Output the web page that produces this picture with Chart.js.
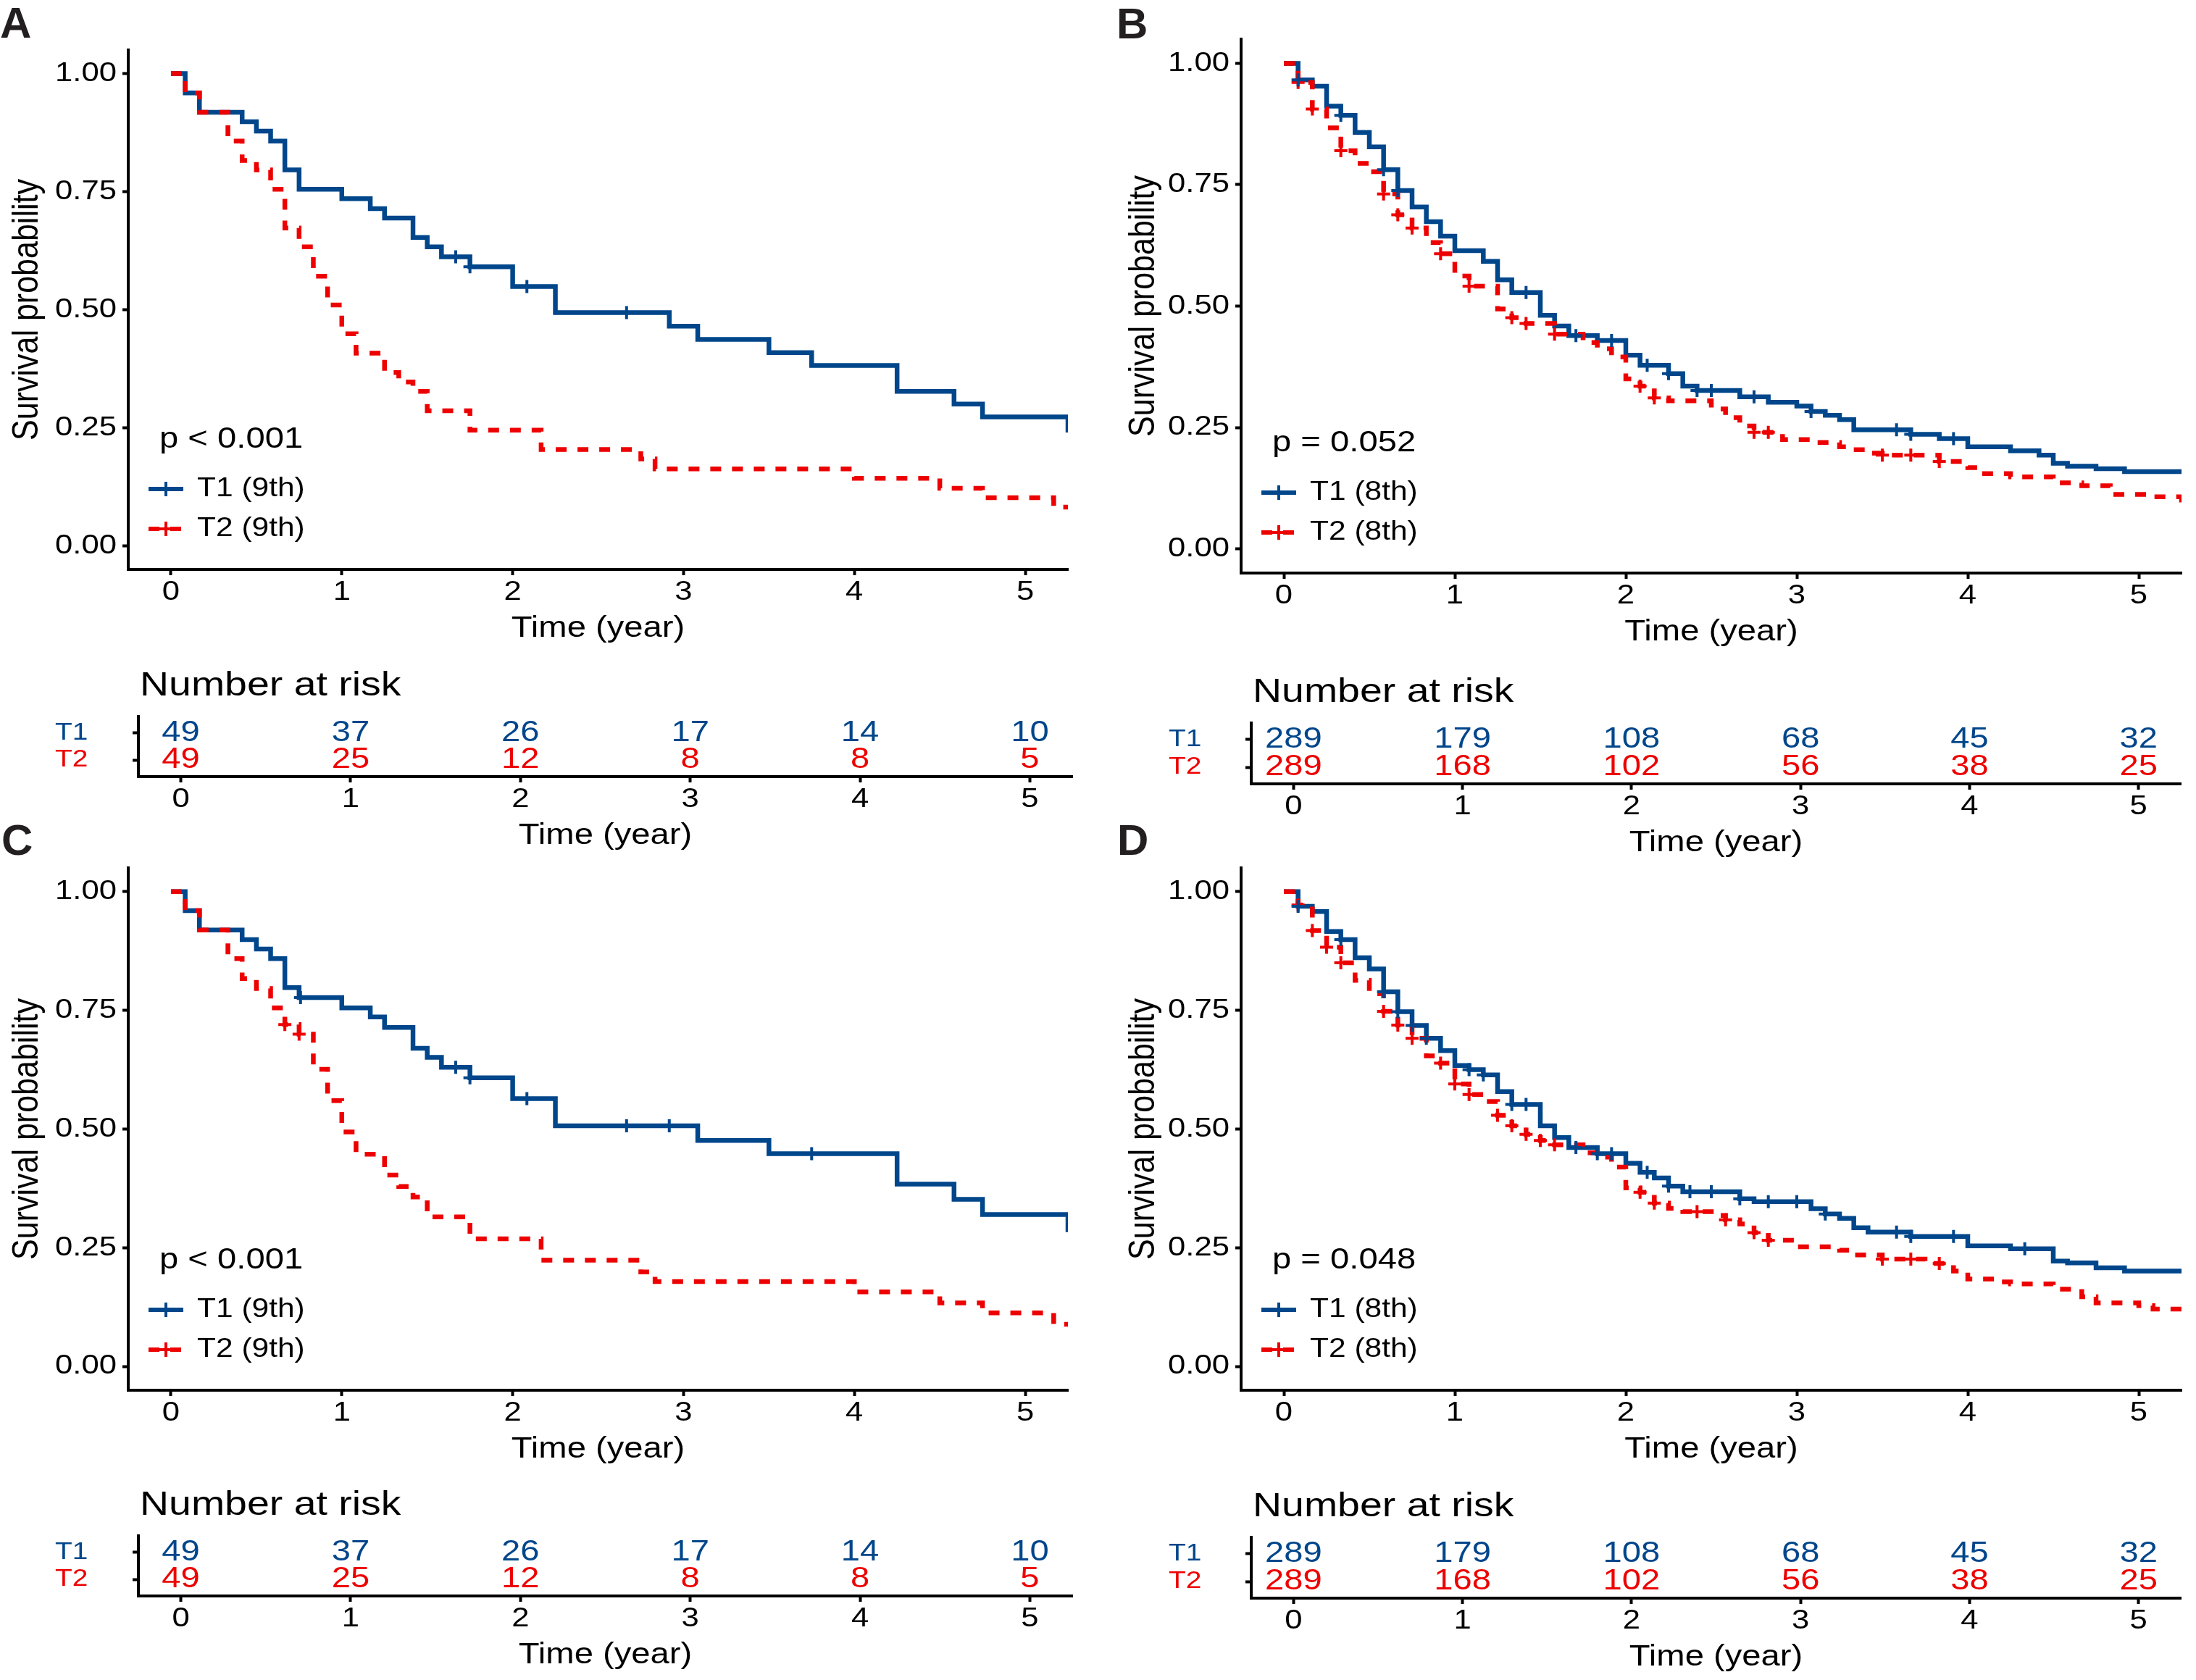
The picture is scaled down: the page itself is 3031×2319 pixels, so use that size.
<!DOCTYPE html>
<html>
<head>
<meta charset="utf-8">
<script src="https://cdn.jsdelivr.net/npm/chart.js@4.4.1/dist/chart.umd.min.js"></script>
<style>
  html, body { margin: 0; padding: 0; background: #fff; }
  #figure { position: relative; width: 3031px; height: 2319px; overflow: hidden; background: #fff; }
  #figure canvas { position: absolute; }
  .tag { position: absolute; font: bold 60px "Liberation Sans", Arial, sans-serif; line-height: 60px; color: #231f20; }
</style>
</head>
<body>
<div id="figure">
  <div class="tag" style="left:0px;top:2px">A</div>
  <div class="tag" style="left:1541px;top:3px">B</div>
  <div class="tag" style="left:2px;top:1130px">C</div>
  <div class="tag" style="left:1542px;top:1130px">D</div>
</div>
<script>
// ---- data (follow-up in months, survival probability) ----
const TIME_TICKS = [0, 1, 2, 3, 4, 5];
const SURV_TICKS = [0, 0.25, 0.5, 0.75, 1];
const RISK_TIMES = [0, 1, 2, 3, 4, 5];

// A: 9th edition
const A_T1_MONTH = [0, 1, 2, 5, 6, 7, 8, 9, 12, 14, 15, 17, 18, 19, 21, 24, 27, 35, 37, 42, 45, 51, 55, 57, 63];
const A_T1_SURV = [1, .959, .918, .898, .878, .857, .796, .755, .735, .714, .694, .653, .633, .612, .591, .549, .494, .465, .437, .409, .382, .327, .300, .273, .240];
const A_T1_CENS_MONTH = [20, 21, 25, 32];
const A_T1_CENS_SURV = [.612, .591, .549, .494];
const A_T2_MONTH = [0, 1, 2, 4, 5, 6, 7, 8, 9, 10, 11, 12, 13, 15, 16, 17, 18, 21, 26, 33, 34, 48, 54, 57, 62, 63];
const A_T2_SURV = [1, .959, .918, .857, .816, .796, .755, .673, .633, .571, .510, .449, .408, .367, .347, .327, .286, .245, .204, .184, .163, .143, .122, .102, .082, .082];
const A_T2_CENS_MONTH = [];
const A_T2_CENS_SURV = [];
const A_RISK_T1 = [49, 37, 26, 17, 14, 10];
const A_RISK_T2 = [49, 25, 12, 8, 8, 5];

// B: 8th edition
const B_T1_MONTH = [0, 1, 2, 3, 4, 5, 6, 7, 8, 9, 10, 11, 12, 14, 15, 16, 18, 19, 20, 22, 24, 25, 27, 28, 29, 32, 34, 36, 37, 38, 39, 40, 44, 46, 48, 51, 53, 54, 55, 57, 59, 63];
const B_T1_SURV = [1, .966, .953, .912, .893, .858, .828, .781, .738, .704, .674, .644, .614, .592, .554, .528, .481, .459, .439, .429, .399, .378, .361, .335, .326, .313, .302, .294, .283, .275, .266, .245, .236, .227, .210, .202, .193, .176, .170, .165, .159, .159];
const B_T1_CENS_MONTH = [1, 4, 7, 8, 17, 20.5, 23, 25.5, 27, 29, 30, 33, 37, 43, 44, 47];
const B_T1_CENS_SURV = [.966, .893, .781, .738, .528, .439, .429, .378, .361, .326, .326, .313, .283, .245, .236, .227];
const B_T2_MONTH = [0, 1, 2, 3, 4, 5, 6, 7, 8, 9, 10, 11, 12, 13, 15, 16, 17, 19, 21, 22, 23, 24, 25, 26, 27, 30, 31, 32, 33, 35, 37, 39, 40, 41, 42, 46, 48, 49, 51, 54, 56, 58, 61, 63];
const B_T2_SURV = [1, .961, .906, .867, .820, .794, .777, .731, .688, .661, .631, .608, .562, .541, .494, .476, .464, .442, .425, .412, .395, .350, .335, .311, .305, .288, .270, .253, .240, .225, .219, .210, .204, .197, .193, .180, .167, .155, .148, .136, .130, .112, .107, .094];
const B_T2_CENS_MONTH = [1, 2, 4, 7, 8, 9, 11, 13, 16, 17, 19, 25, 26, 33, 34, 42, 44, 46];
const B_T2_CENS_SURV = [.961, .906, .820, .731, .688, .661, .608, .541, .476, .464, .442, .335, .311, .240, .240, .193, .193, .180];
const B_RISK_T1 = [289, 179, 108, 68, 45, 32];
const B_RISK_T2 = [289, 168, 102, 56, 38, 25];

// C: 9th edition
const C_T1_MONTH = [0, 1, 2, 5, 6, 7, 8, 9, 12, 14, 15, 17, 18, 19, 21, 24, 27, 37, 42, 51, 55, 57, 63];
const C_T1_SURV = [1, .960, .919, .899, .879, .859, .798, .777, .755, .736, .714, .670, .651, .630, .608, .564, .507, .476, .448, .384, .352, .320, .283];
const C_T1_CENS_MONTH = [9.1, 20, 21, 25, 32, 35, 45];
const C_T1_CENS_SURV = [.777, .630, .608, .564, .507, .507, .448];
const C_T2_MONTH = [0, 1, 2, 4, 5, 6, 7, 8, 9, 10, 11, 12, 13, 15, 16, 17, 18, 21, 26, 33, 34, 48, 54, 57, 62, 63];
const C_T2_SURV = [1, .960, .919, .859, .817, .796, .755, .720, .700, .626, .560, .494, .447, .403, .379, .357, .315, .269, .224, .199, .179, .157, .134, .113, .089, .089];
const C_T2_CENS_MONTH = [8, 9];
const C_T2_CENS_SURV = [.720, .700];
const C_RISK_T1 = [49, 37, 26, 17, 14, 10];
const C_RISK_T2 = [49, 25, 12, 8, 8, 5];

// D: 8th edition
const D_T1_MONTH = [0, 1, 2, 3, 4, 5, 6, 7, 8, 9, 10, 11, 12, 13, 14, 15, 16, 18, 19, 20, 22, 24, 25, 26, 27, 28, 32, 33, 37, 38, 39, 40, 41, 44, 48, 51, 54, 55, 57, 59, 63];
const D_T1_SURV = [1, .969, .958, .916, .899, .861, .837, .789, .747, .718, .691, .665, .634, .625, .614, .579, .552, .507, .482, .461, .448, .428, .409, .397, .380, .368, .353, .347, .332, .321, .312, .292, .283, .274, .254, .248, .222, .218, .208, .201, .201];
const D_T1_CENS_MONTH = [1, 4, 7, 8, 9, 10, 13, 14, 16, 17, 20.5, 22, 23, 25.5, 27, 28.5, 30, 32, 34, 36, 38, 43, 44, 47, 52];
const D_T1_CENS_SURV = [.969, .899, .789, .747, .718, .691, .625, .614, .552, .552, .461, .448, .448, .409, .380, .368, .368, .353, .347, .347, .321, .283, .274, .274, .248];
const D_T2_MONTH = [0, 1, 2, 3, 4, 5, 6, 7, 8, 9, 10, 11, 12, 13, 14, 15, 16, 17, 18, 19, 21, 22, 23, 24, 25, 26, 27, 28, 30, 31, 32, 33, 34, 36, 39, 40, 42, 45, 47, 48, 50, 51, 54, 56, 57, 60, 61, 63];
const D_T2_SURV = [1, .972, .918, .883, .850, .813, .785, .748, .719, .691, .654, .639, .595, .573, .558, .529, .507, .489, .476, .467, .450, .441, .420, .376, .367, .344, .333, .326, .318, .309, .300, .282, .266, .252, .245, .235, .226, .217, .201, .184, .178, .174, .163, .147, .134, .128, .121, .112];
const D_T2_CENS_MONTH = [1, 2, 3, 4, 7, 8, 9, 11, 12, 13, 15, 16, 17, 18, 19, 25, 26, 29, 31, 33, 34, 42, 44, 46];
const D_T2_CENS_SURV = [.972, .918, .883, .850, .748, .719, .691, .639, .595, .573, .529, .507, .489, .476, .467, .367, .344, .326, .309, .282, .266, .226, .226, .217];
const D_RISK_T1 = [289, 179, 108, 68, 45, 32];
const D_RISK_T2 = [289, 168, 102, 56, 38, 25];

// ---- styling ----
const FONT = '"Liberation Sans", Arial, Helvetica, sans-serif';
const BLUE = '#00468B';
const RED = '#ED0000';
const DASH = [15, 15];
const TEXT_STRETCH = 1.18; // the published figure was widened after export, text included

// plot areas in page pixels; cx = where the canvas starts on the left
const PANELS = [
  { ed: '9th', p: 'p < 0.001',
    t1: [A_T1_MONTH, A_T1_SURV], t2: [A_T2_MONTH, A_T2_SURV],
    c1: [A_T1_CENS_MONTH, A_T1_CENS_SURV], c2: [A_T2_CENS_MONTH, A_T2_CENS_SURV],
    risk: [A_RISK_T1, A_RISK_T2],
    plot: { cx: 0, titlePad: 12, left: 177, right: 1474, top: 69, bottom: 786 },
    table: { cx: 76, left: 191, right: 1480, top: 989, bottom: 1072 } },
  { ed: '8th', p: 'p = 0.052',
    t1: [B_T1_MONTH, B_T1_SURV], t2: [B_T2_MONTH, B_T2_SURV],
    c1: [B_T1_CENS_MONTH, B_T1_CENS_SURV], c2: [B_T2_CENS_MONTH, B_T2_CENS_SURV],
    risk: [B_RISK_T1, B_RISK_T2],
    plot: { cx: 1549, titlePad: 4, left: 1713, right: 3011, top: 54, bottom: 791 },
    table: { cx: 1613, left: 1727, right: 3010, top: 998, bottom: 1082 } },
  { ed: '9th', p: 'p < 0.001',
    t1: [C_T1_MONTH, C_T1_SURV], t2: [C_T2_MONTH, C_T2_SURV],
    c1: [C_T1_CENS_MONTH, C_T1_CENS_SURV], c2: [C_T2_CENS_MONTH, C_T2_CENS_SURV],
    risk: [C_RISK_T1, C_RISK_T2],
    plot: { cx: 0, titlePad: 12, left: 177, right: 1474, top: 1198, bottom: 1919 },
    table: { cx: 76, left: 191, right: 1480, top: 2120, bottom: 2203 } },
  { ed: '8th', p: 'p = 0.048',
    t1: [D_T1_MONTH, D_T1_SURV], t2: [D_T2_MONTH, D_T2_SURV],
    c1: [D_T1_CENS_MONTH, D_T1_CENS_SURV], c2: [D_T2_CENS_MONTH, D_T2_CENS_SURV],
    risk: [D_RISK_T1, D_RISK_T2],
    plot: { cx: 1549, titlePad: 4, left: 1713, right: 3011, top: 1198, bottom: 1919 },
    table: { cx: 1613, left: 1727, right: 3010, top: 2122, bottom: 2206 } }
];

const PAD_TOP_PLOT = 44;
const PAD_TOP_TABLE = 80;
const X_AXIS_H = 110;

// stretch every label horizontally around its anchor, like the printed figure
function widenText(ctx) {
  const fill = ctx.fillText.bind(ctx);
  ctx.fillText = function (text, x, y, maxWidth) {
    const m = ctx.getTransform();
    const px = m.a * x + m.c * y + m.e;
    ctx.save();
    ctx.setTransform(TEXT_STRETCH, 0, 0, 1, px * (1 - TEXT_STRETCH), 0);
    ctx.transform(m.a, m.b, m.c, m.d, m.e, m.f);
    if (maxWidth === undefined) fill(text, x, y);
    else fill(text, x, y, maxWidth);
    ctx.restore();
  };
}

function makeCanvas(x, y, w, h) {
  const c = document.createElement('canvas');
  c.width = w;
  c.height = h;
  c.style.left = x + 'px';
  c.style.top = y + 'px';
  c.style.width = w + 'px';
  c.style.height = h + 'px';
  document.getElementById('figure').appendChild(c);
  widenText(c.getContext('2d'));
  return c;
}

function toPoints(months, values) {
  return months.map((m, i) => ({ x: m / 12, y: values[i] }));
}

const axisLine = { display: true, color: '#000', width: 4 };
const tickMarks = { display: true, drawOnChartArea: false, drawTicks: true, tickLength: 8, tickWidth: 4, tickColor: '#000' };

function timeAxis() {
  return {
    type: 'linear', min: -0.25, max: 5.25,
    afterBuildTicks: s => { s.ticks = TIME_TICKS.map(v => ({ value: v })); },
    afterFit: s => { s.height = X_AXIS_H; },
    border: axisLine,
    grid: tickMarks,
    ticks: { color: '#000', font: { family: FONT, size: 37 }, padding: 2, autoSkip: false, maxRotation: 0, callback: v => String(v) },
    title: { display: true, text: 'Time (year)', color: '#000', font: { family: FONT, size: 40 }, padding: { top: 0, bottom: 4 } }
  };
}

function survivalChart(pn) {
  const a = pn.plot;
  const canvas = makeCanvas(a.cx, a.top - PAD_TOP_PLOT, a.right + 20 - a.cx, PAD_TOP_PLOT + (a.bottom - a.top) + X_AXIS_H);
  const keys = [
    { label: 'T1 (' + pn.ed + ')', color: BLUE, dash: [], up: 111 },
    { label: 'T2 (' + pn.ed + ')', color: RED, dash: DASH, up: 56 }
  ];
  const legendInside = {
    id: 'legendInside',
    afterDatasetsDraw(chart) {
      const { ctx, chartArea: ar } = chart;
      ctx.save();
      ctx.fillStyle = '#000';
      ctx.font = '40px ' + FONT;
      ctx.textAlign = 'left';
      ctx.textBaseline = 'alphabetic';
      ctx.fillText(pn.p, ar.left + 43, ar.bottom - 168);
      keys.forEach(k => {
        const y = ar.bottom - k.up;
        const x0 = ar.left + 28, x1 = ar.left + 76, xm = (x0 + x1) / 2;
        ctx.strokeStyle = k.color;
        ctx.lineWidth = 6;
        ctx.setLineDash(k.dash);
        ctx.beginPath();
        ctx.moveTo(x0, y);
        ctx.lineTo(x1, y);
        ctx.stroke();
        ctx.setLineDash([]);
        ctx.lineWidth = 4;
        ctx.beginPath();
        ctx.moveTo(xm, y - 10);
        ctx.lineTo(xm, y + 10);
        ctx.moveTo(xm - 10, y);
        ctx.lineTo(xm + 10, y);
        ctx.stroke();
        ctx.fillStyle = '#000';
        ctx.font = '36px ' + FONT;
        ctx.textBaseline = 'middle';
        ctx.fillText(k.label, ar.left + 95, y);
      });
      ctx.restore();
    }
  };
  const censor = (pts, color) => ({
    data: pts, showLine: false, pointStyle: 'cross', pointRadius: 9, pointHoverRadius: 9,
    borderColor: color, borderWidth: 4, order: 0
  });
  const curve = (pts, color, dash, order) => ({
    data: pts, showLine: true, stepped: 'before', borderColor: color, borderWidth: 6.5,
    borderDash: dash, pointRadius: 0, pointHoverRadius: 0, fill: false, order: order
  });
  new Chart(canvas, {
    type: 'scatter',
    data: {
      datasets: [
        censor(toPoints(pn.c1[0], pn.c1[1]), BLUE),
        censor(toPoints(pn.c2[0], pn.c2[1]), RED),
        curve(toPoints(pn.t2[0], pn.t2[1]), RED, DASH, 1),
        curve(toPoints(pn.t1[0], pn.t1[1]), BLUE, [], 2)
      ]
    },
    options: {
      responsive: false,
      animation: false,
      devicePixelRatio: 1,
      layout: { padding: { top: PAD_TOP_PLOT, right: 20, left: 0, bottom: 0 } },
      plugins: { legend: { display: false }, tooltip: { enabled: false } },
      scales: {
        x: timeAxis(),
        y: {
          type: 'linear', min: -0.05, max: 1.05,
          afterBuildTicks: s => { s.ticks = SURV_TICKS.map(v => ({ value: v })); },
          afterFit: s => { s.width = a.left - a.cx; },
          border: axisLine,
          grid: tickMarks,
          ticks: { color: '#000', font: { family: FONT, size: 37 }, padding: 8, callback: v => v.toFixed(2) },
          title: { display: true, text: 'Survival probability', color: '#000', font: { family: FONT, size: 43 }, padding: { top: a.titlePad, bottom: 0 } }
        }
      }
    },
    plugins: [legendInside]
  });
}

function riskChart(pn) {
  const a = pn.table;
  const canvas = makeCanvas(a.cx, a.top - PAD_TOP_TABLE, a.right + 15 - a.cx, PAD_TOP_TABLE + (a.bottom - a.top) + X_AXIS_H);
  const rows = [
    { level: 2, color: BLUE, counts: pn.risk[0] },
    { level: 1, color: RED, counts: pn.risk[1] }
  ];
  const riskNumbers = {
    id: 'riskNumbers',
    afterDraw(chart) {
      const { ctx, chartArea: ar, scales } = chart;
      ctx.save();
      ctx.fillStyle = '#000';
      ctx.font = '47px ' + FONT;
      ctx.textAlign = 'left';
      ctx.textBaseline = 'alphabetic';
      ctx.fillText('Number at risk', ar.left + 2, ar.top - 29);
      ctx.font = '40px ' + FONT;
      ctx.textAlign = 'center';
      ctx.textBaseline = 'middle';
      rows.forEach(r => {
        ctx.fillStyle = r.color;
        r.counts.forEach((n, i) => {
          ctx.fillText(String(n), scales.x.getPixelForValue(RISK_TIMES[i]), scales.y.getPixelForValue(r.level));
        });
      });
      ctx.restore();
    }
  };
  new Chart(canvas, {
    type: 'scatter',
    data: { datasets: [] },
    options: {
      responsive: false,
      animation: false,
      devicePixelRatio: 1,
      layout: { padding: { top: PAD_TOP_TABLE, right: 15, left: 0, bottom: 0 } },
      plugins: { legend: { display: false }, tooltip: { enabled: false } },
      scales: {
        x: timeAxis(),
        y: {
          type: 'linear', min: 0.4, max: 2.6,
          afterBuildTicks: s => { s.ticks = [{ value: 1 }, { value: 2 }]; },
          afterFit: s => { s.width = a.left - a.cx; },
          border: axisLine,
          grid: tickMarks,
          ticks: {
            crossAlign: 'far', padding: 10,
            font: { family: FONT, size: 33 },
            color: c => (c.tick && c.tick.value === 2 ? BLUE : RED),
            callback: v => (v === 2 ? 'T1' : 'T2')
          }
        }
      }
    },
    plugins: [riskNumbers]
  });
}

PANELS.forEach(pn => {
  survivalChart(pn);
  riskChart(pn);
});
</script>
</body>
</html>
